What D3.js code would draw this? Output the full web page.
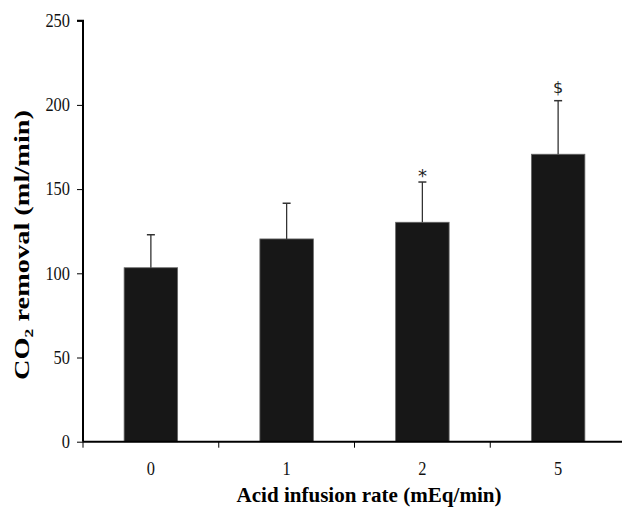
<!DOCTYPE html>
<html>
<head>
<meta charset="utf-8">
<script src="https://cdn.jsdelivr.net/npm/d3@7"></script>
<style>
  body { margin: 0; background: #fff; }
  svg { display: block; }
</style>
</head>
<body>
<div id="chart"></div>
<script>
var rates = ['0', '1', '2', '5'];
var removal = [103.3, 120.4, 130.3, 170.7];
var errTop = [122.9, 141.6, 154.2, 202.5];
var marks = ['', '', '*', '$'];
var yTicks = [0, 50, 100, 150, 200, 250];

var width = 622, height = 507;
var plotLeft = 83, plotTop = 20.7, plotBottom = 441.7;

var svg = d3.select('#chart')
    .append('svg')
        .attr('width', width)
        .attr('height', height);

var x = d3.scaleBand()
    .domain(rates)
    .range([plotLeft, 626])
    .paddingInner(0.606)
    .paddingOuter(0.303);

var y = d3.scaleLinear()
    .domain([0, 250])
    .range([plotBottom, plotTop]);

// bars
svg.selectAll('.bar')
    .data(rates)
    .enter()
    .append('rect')
    .classed('bar', true)
    .attr('x', d => x(d))
    .attr('y', (d, i) => y(removal[i]))
    .attr('width', x.bandwidth())
    .attr('height', (d, i) => plotBottom - y(removal[i]))
        .style('fill', '#171717')
        .style('stroke', '#666')
        .style('stroke-width', 0.8)

// error bars (upper only)
var err = svg.selectAll('.err')
    .data(rates)
    .enter()
    .append('g')
    .classed('err', true)
    .attr('transform', d => 'translate(' + (x(d) + x.bandwidth() / 2) + ',0)');

err.append('line')
    .attr('y1', (d, i) => y(removal[i]))
    .attr('y2', (d, i) => y(errTop[i]))
        .style('stroke', '#333')
        .style('stroke-width', 1.3)

err.append('line')
    .attr('x1', -4)
    .attr('x2', 4)
    .attr('y1', (d, i) => y(errTop[i]))
    .attr('y2', (d, i) => y(errTop[i]))
        .style('stroke', '#333')
        .style('stroke-width', 1.5)

err.append('text')
    .attr('y', (d, i) => y(errTop[i]) - (marks[i] == '*' ? 0 : 8))
    .attr('text-anchor', 'middle')
    .style('font-family', '"DejaVu Sans", sans-serif')
    .style('font-size', (d, i) => marks[i] == '*' ? '18px' : '16px')
    .style('fill', '#222')
    .text((d, i) => marks[i]);

// y axis
var yAxis = svg.append('g')
    .attr('transform', 'translate(' + plotLeft + ',0)')
    .call(d3.axisLeft(y).tickValues(yTicks).tickSize(6).tickPadding(7));

// x axis: ticks at band boundaries, labels in the middle
var xAxis = svg.append('g')
    .attr('transform', 'translate(0,' + plotBottom + ')')
    .call(d3.axisBottom(x).tickSize(0).tickPadding(21));

var step = x.step();
xAxis.selectAll('.bound')
    .data(rates)
    .enter()
    .append('line')
    .classed('bound', true)
    .attr('x1', d => x(d) - step * 0.303)
    .attr('x2', d => x(d) - step * 0.303)
    .attr('y1', 0)
    .attr('y2', 6)
        .style('stroke', '#000')

svg.selectAll('.domain')
    .style('stroke', '#000')
    .style('stroke-width', 2);

yAxis.select('.domain').attr('d', 'M-6,' + plotTop + 'H0V' + plotBottom);
xAxis.select('.domain').attr('d', 'M' + plotLeft + ',0H' + width);

svg.selectAll('.tick text')
    .attr('textLength', function() { return this.textContent.length * 8.2; })
    .attr('lengthAdjust', 'spacingAndGlyphs')
    .style('font-family', '"Liberation Serif", "Times New Roman", serif')
    .style('font-size', '18px')
    .style('fill', '#111');

// axis titles
svg.append('text')
    .attr('x', 369)
    .attr('y', 502)
    .attr('text-anchor', 'middle')
    .attr('textLength', 265)
    .attr('lengthAdjust', 'spacingAndGlyphs')
    .style('font-family', '"Liberation Serif", serif')
    .style('font-weight', 'bold')
    .style('font-size', '20px')
    .text('Acid infusion rate (mEq/min)');

var yt = svg.append('text')
    .attr('transform', 'translate(29,245) rotate(-90)')
    .attr('text-anchor', 'middle')
    .attr('textLength', 270)
    .attr('lengthAdjust', 'spacingAndGlyphs')
    .style('font-family', '"Liberation Serif", serif')
    .style('font-weight', 'bold')
    .style('font-size', '21px');
yt.append('tspan').text('CO');
yt.append('tspan').attr('dy', 4).style('font-size', '13px').text('2');
yt.append('tspan').attr('dy', -4).text(' removal (ml/min)');
</script>
</body>
</html>
